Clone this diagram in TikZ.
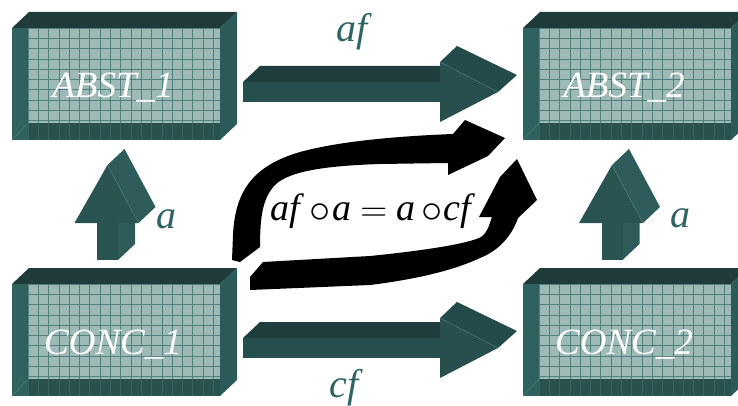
\documentclass[tikz,border=0pt]{standalone}
\usepackage{fontspec}
\usepackage{graphicx}
\setmainfont{Liberation Serif}
\definecolor{topface}{HTML}{1F3C3B}
\definecolor{sideface}{HTML}{2C5A58}
\definecolor{frontface}{HTML}{2F625F}
\definecolor{bottomstrip}{HTML}{29524F}
\definecolor{gridfill}{HTML}{9DBAB7}
\definecolor{gridline}{HTML}{52807D}
\definecolor{arrowfront}{HTML}{264F4D}
\definecolor{arrowtop}{HTML}{1F3D3C}
\definecolor{headtop}{HTML}{244B49}
\definecolor{upfront}{HTML}{2A5452}
\definecolor{upside}{HTML}{2D5C5A}
\definecolor{foldline}{HTML}{4A7C79}
\definecolor{labelteal}{HTML}{2E6461}

\newcommand\tealblock[4]{%
  \fill[topface] (#2,#3) -- ({#2+17},{#3-16}) -- ({#2+225},{#3-16}) -- ({#2+208},#3) -- cycle;
  \fill[sideface] ({#2+208},#3) -- ({#2+225},{#3-16}) -- ({#2+225},{#3+96}) -- ({#2+208},{#3+112}) -- cycle;
  \node[blockface, anchor=north west] (#1) at (#2,#3) {};
  \fill[gridfill] ({#2+16},#3) rectangle ({#2+208},{#3+95});
  \fill[bottomstrip] ({#2+16},{#3+95}) rectangle ({#2+208},{#3+112});
  \begin{scope}
    \clip ({#2+16},#3) rectangle ({#2+208},{#3+95});
    \foreach \i in {0,...,19} {\draw[gridrule] ({#2+16+\i*10.3},#3) -- ++(0,95);}
    \foreach \j in {0,...,9} {\draw[gridrule] ({#2+16},{#3+\j*10.3}) -- ++(192,0);}
  \end{scope}
  \begin{scope}
    \clip ({#2+16},{#3+95}) rectangle ({#2+208},{#3+112});
    \foreach \i in {0,...,19} {\draw[gridrule, opacity=.4] ({#2+16+\i*10.3},{#3+95}) -- ++(0,17);}
  \end{scope}
  \draw[foldline, line width=.6pt] (#2,{#3+112}) -- ({#2+16},{#3+95});
  \node[boxtext] (#1t) at ({#2+101},{#3+70}) {#4};
}

\newcommand\flatarrow[1]{%
  \fill[arrowtop] (243,{#1-10}) -- (260,{#1-26}) -- (457,{#1-26}) -- (440,{#1-10}) -- cycle;
  \fill[arrowfront] (243,{#1-10}) rectangle (440,{#1+10});
  \fill[headtop] (440,{#1-30}) -- (457,{#1-46}) -- (517,{#1-17}) -- (498,#1) -- cycle;
  \fill[arrowfront] (440,{#1-30}) -- (440,{#1+30}) -- (498,#1) -- cycle;
  \draw[foldline, line width=.4pt] (440,{#1-30}) -- (498,#1);
}

\newcommand\blockuparrow[1]{%
  \fill[upside] ({#1+10.5},223) -- ({#1+27.5},207) -- ({#1+27.5},244) -- ({#1+10.5},260) -- cycle;
  \fill[upfront] ({#1-10.5},223) rectangle ({#1+10.5},260);
  \fill[upside] (#1,165) -- ({#1+17},149) -- ({#1+48},207) -- ({#1+31},223) -- cycle;
  \fill[upfront] ({#1-33},223) -- (#1,165) -- ({#1+31},223) -- cycle;
  \draw[foldline, line width=.5pt] (#1,165) -- ({#1+31},223);
}

\newcommand\eqcirc{\raisebox{-2.6pt}{\scalebox{1.7}{$\circ$}}}
\newcommand\eqsign{\raisebox{-1.3pt}{\scalebox{1.5}{$=$}}}

\begin{document}
\begin{tikzpicture}[x=1pt,y=-1pt,
  blockface/.style={fill=frontface, draw=none, minimum width=208pt, minimum height=112pt, inner sep=0pt, outer sep=0pt},
  gridrule/.style={draw=gridline, line width=0.7pt},
  boxtext/.style={anchor=base, text=white, font=\fontsize{37}{40}\selectfont\itshape, inner sep=0pt},
  arrowlabel/.style={anchor=base, text=labelteal, font=\fontsize{40}{44}\selectfont\itshape, inner sep=0pt},
  eqtext/.style={anchor=base west, text=black, font=\fontsize{38}{42}\selectfont, inner sep=0pt}]
\useasboundingbox (0,0) rectangle (738,406);
\clip (0,0) rectangle (738,406);
\fill[white] (0,0) rectangle (738,406);

\tealblock{A1}{12}{28}{ABST\_1}
\tealblock{A2}{523}{28}{ABST\_2}
\tealblock{C1}{12}{284}{CONC\_1}
\tealblock{C2}{523}{284}{CONC\_2}

\flatarrow{92}
\flatarrow{348}
\blockuparrow{107.5}
\blockuparrow{612}

% black curved arrows
\fill[black] (232,260) -- (233,235) .. controls (235,192) and (252,166) .. (300,152)
  .. controls (340,141) and (400,136) .. (453,134) -- (465,120) -- (505,138) -- (488,156)
  -- (448,175) -- (448,163) -- (380,164) .. controls (320,166) and (290,172) .. (276,184)
  .. controls (263,197) and (260,215) .. (260,247) -- (240,262) -- cycle;
\fill[black] (263,262) -- (370,256) .. controls (420,251) and (468,244) .. (481,237)
  .. controls (488,232) and (489,225) .. (492,217) -- (479,217) -- (500,177) -- (517,159)
  -- (537,200) -- (518,218) .. controls (512,235) and (500,250) .. (480,258)
  .. controls (450,272) and (410,280) .. (370,285) -- (250,290) -- (250,277) -- cycle;

\node[arrowlabel] (laf) at (352,42) {af};
\node[arrowlabel] (lcf) at (344,397) {cf};
\node[arrowlabel] (la1) at (166,228) {a};
\node[arrowlabel] (la2) at (680,227) {a};
\node[eqtext] (eq) at (270,220) {\textit{af}\hspace{5pt}\eqcirc\hspace{2pt}\textit{a}\hspace{9pt}\eqsign\hspace{9pt}\textit{a}\hspace{6pt}\eqcirc\hspace{1pt}\textit{cf}};
\end{tikzpicture}
\end{document}
